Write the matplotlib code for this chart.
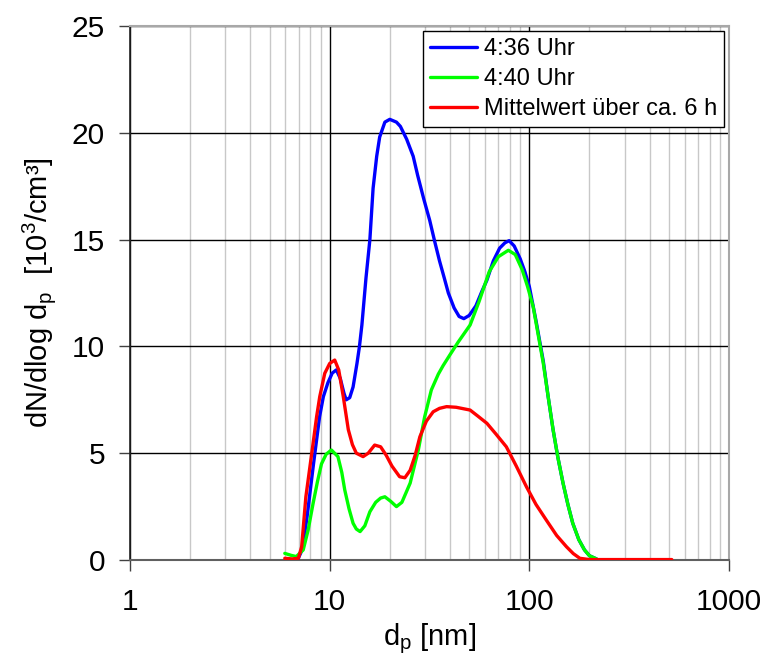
import matplotlib
matplotlib.use("Agg")
import matplotlib.pyplot as plt
from matplotlib.ticker import LogLocator, NullFormatter, FixedLocator

plt.rcParams['font.family'] = ['Liberation Sans', 'DejaVu Sans']
plt.rcParams['mathtext.fontset'] = 'custom'
plt.rcParams['mathtext.rm'] = 'Liberation Sans'
plt.rcParams['mathtext.it'] = 'Liberation Sans'

# 4:36 Uhr
d_blue = [6.9, 7.3, 7.7, 8.3, 8.9, 9.3, 9.8, 10.3, 10.8, 11.3, 11.8, 12.1, 12.6, 13.1,
          13.7, 14.1, 14.5, 15.2, 15.9, 16.5, 17.2, 17.8, 18.9, 20.0, 21.6, 22.6,
          24.3, 26.2, 27.6, 29.6, 31.7, 33.6, 35.5, 37.5, 39.3, 42.0, 44.5, 47.0,
          50.0, 54.0, 58.0, 61.3, 66.0, 71.0, 75.5, 79.2, 84.0, 90.0, 95.0, 100.0,
          108.0, 117.5, 124.0, 131.5, 139.0, 147.5, 156.0, 165.0, 177.0, 189.0,
          200.0, 217.0]
v_blue = [0.0, 0.5, 2.0, 4.5, 6.7, 7.65, 8.3, 8.75, 8.9, 8.5, 7.8, 7.5, 7.6, 8.1,
          9.2, 10.0, 11.0, 13.2, 15.0, 17.4, 18.9, 19.8, 20.5, 20.63, 20.5, 20.3,
          19.7, 18.9, 18.0, 16.9, 15.9, 14.9, 14.0, 13.2, 12.5, 11.8, 11.4, 11.3,
          11.45, 11.9, 12.6, 13.1, 14.0, 14.6, 14.85, 14.95, 14.7, 14.1, 13.5, 12.8,
          11.2, 9.3, 7.7, 6.1, 4.8, 3.6, 2.6, 1.72, 0.95, 0.47,
          0.2, 0.05]

# 4:40 Uhr
d_green = [5.96, 6.4, 6.8, 7.37, 7.8, 8.26, 8.7, 9.1, 9.6, 10.2, 11.0, 11.5, 11.9,
           12.5, 13.1, 13.6, 14.2, 15.0, 15.9, 17.0, 18.0, 18.9, 20.2, 21.6, 23.0,
           25.3, 27.8, 29.9, 32.3, 35.0, 37.0, 40.0, 44.0, 50.5, 56.0, 63.0, 70.0,
           78.5, 85.0, 92.0, 98.0, 104.5, 110.0, 117.5, 124.0, 131.5, 139.0, 147.5,
           156.0, 165.0, 177.0, 189.0, 200.0, 217.0]
v_green = [0.31, 0.22, 0.16, 0.47, 1.4, 2.65, 3.7, 4.5, 4.95, 5.15, 4.84, 4.1, 3.28,
           2.4, 1.72, 1.45, 1.33, 1.6, 2.26, 2.7, 2.9, 2.96, 2.75, 2.5, 2.7,
           3.6, 5.15, 6.7, 7.96, 8.7, 9.1, 9.6, 10.2, 11.0, 12.1, 13.5, 14.2,
           14.5, 14.3, 13.6, 12.8, 11.86, 10.7, 9.2, 7.7, 6.1, 4.8, 3.6,
           2.6, 1.72, 0.95, 0.47, 0.2, 0.05]

# Mittelwert über ca. 6 h
d_red = [5.96, 6.5, 6.97, 7.24, 7.6, 8.0, 8.26, 8.6, 8.92, 9.45, 10.0, 10.6, 11.1,
         11.7, 12.4, 13.0, 13.6, 14.7, 15.6, 16.8, 18.0, 19.2, 20.5, 22.4, 23.8,
         25.3, 26.8, 28.3, 30.5, 33.0, 35.5, 38.5, 43.0, 50.5, 55.0, 61.3, 68.0,
         76.7, 86.0, 96.7, 108.0, 121.6, 137.0, 153.5, 166.0, 179.0, 200.0, 300.0,
         400.0, 517.0]
v_red = [0.08, 0.05, 0.08, 0.62, 2.96, 4.5, 5.46, 6.7, 7.65, 8.74, 9.2, 9.36, 8.9,
         7.65, 6.1, 5.4, 5.0, 4.84, 5.0, 5.38, 5.3, 4.9, 4.4, 3.9, 3.85,
         4.2, 4.9, 5.77, 6.5, 6.94, 7.1, 7.18, 7.15, 7.02, 6.75, 6.4, 5.9,
         5.3, 4.4, 3.43, 2.6, 1.87, 1.15, 0.62, 0.3, 0.08, 0.02, 0.02,
         0.02, 0.02]

labels = ['4:36 Uhr', '4:40 Uhr', 'Mittelwert über ca. 6 h']
colors = ['#0000FF', '#00FF00', '#FF0000']

fig = plt.figure(figsize=(7.63, 6.55), dpi=100)
ax = fig.add_axes([130/763, 1-560/655, (729-130)/763, (560-26)/655])

zs = [3, 3.5, 4]
for d, v, lab, c, z in zip([d_blue, d_green, d_red], [v_blue, v_green, v_red], labels, colors, zs):
    ax.plot(d, v, color=c, lw=2.4, label=lab, solid_joinstyle='round',
            solid_capstyle='round', zorder=z)

ax.set_xscale('log')
ax.set_xlim(1, 1000)
ax.set_ylim(0, 25)
ax.xaxis.set_major_locator(FixedLocator([1, 10, 100, 1000]))
ax.set_xticklabels(['1', '10', '100', '1000'])
ax.xaxis.set_minor_locator(LogLocator(base=10, subs=range(2, 10), numticks=20))
ax.xaxis.set_minor_formatter(NullFormatter())
ax.set_yticks([0, 5, 10, 15, 20, 25])

ax.grid(which='major', axis='both', color='black', lw=1.0, zorder=1)
ax.grid(which='minor', axis='x', color='#c8c8c8', lw=1.0, zorder=0.5)
ax.set_axisbelow(True)

ax.tick_params(axis='both', which='major', direction='out', length=8, width=1,
               color='#404040', labelsize=21.5, pad=10)
ax.tick_params(axis='x', which='minor', length=0)
ax.tick_params(axis='x', which='major', pad=12)

for s in ['top', 'right']:
    ax.spines[s].set_color('#a8a8a8')
    ax.spines[s].set_linewidth(1.5)
ax.spines['left'].set_color('#202020')
ax.spines['bottom'].set_color('#606060')
ax.spines['left'].set_linewidth(1.2)
ax.spines['bottom'].set_linewidth(1.5)

ax.set_xlabel(r'd$_{\rm p}$ [nm]', fontsize=21, labelpad=4)
ax.set_ylabel(r'dN/dlog d$_{\rm p}$  [10$^{3}$/cm³]', fontsize=21, labelpad=10)

leg = ax.legend(loc='upper right', bbox_to_anchor=(1.0, 1.0), fontsize=17,
                frameon=True, fancybox=False, framealpha=1, edgecolor='black',
                borderpad=0.3, labelspacing=0.35, handlelength=2.0,
                handletextpad=0.3, borderaxespad=0.2)
leg.get_frame().set_linewidth(1.0)
leg.set_zorder(10)

fig.savefig('out.png', dpi=100)
